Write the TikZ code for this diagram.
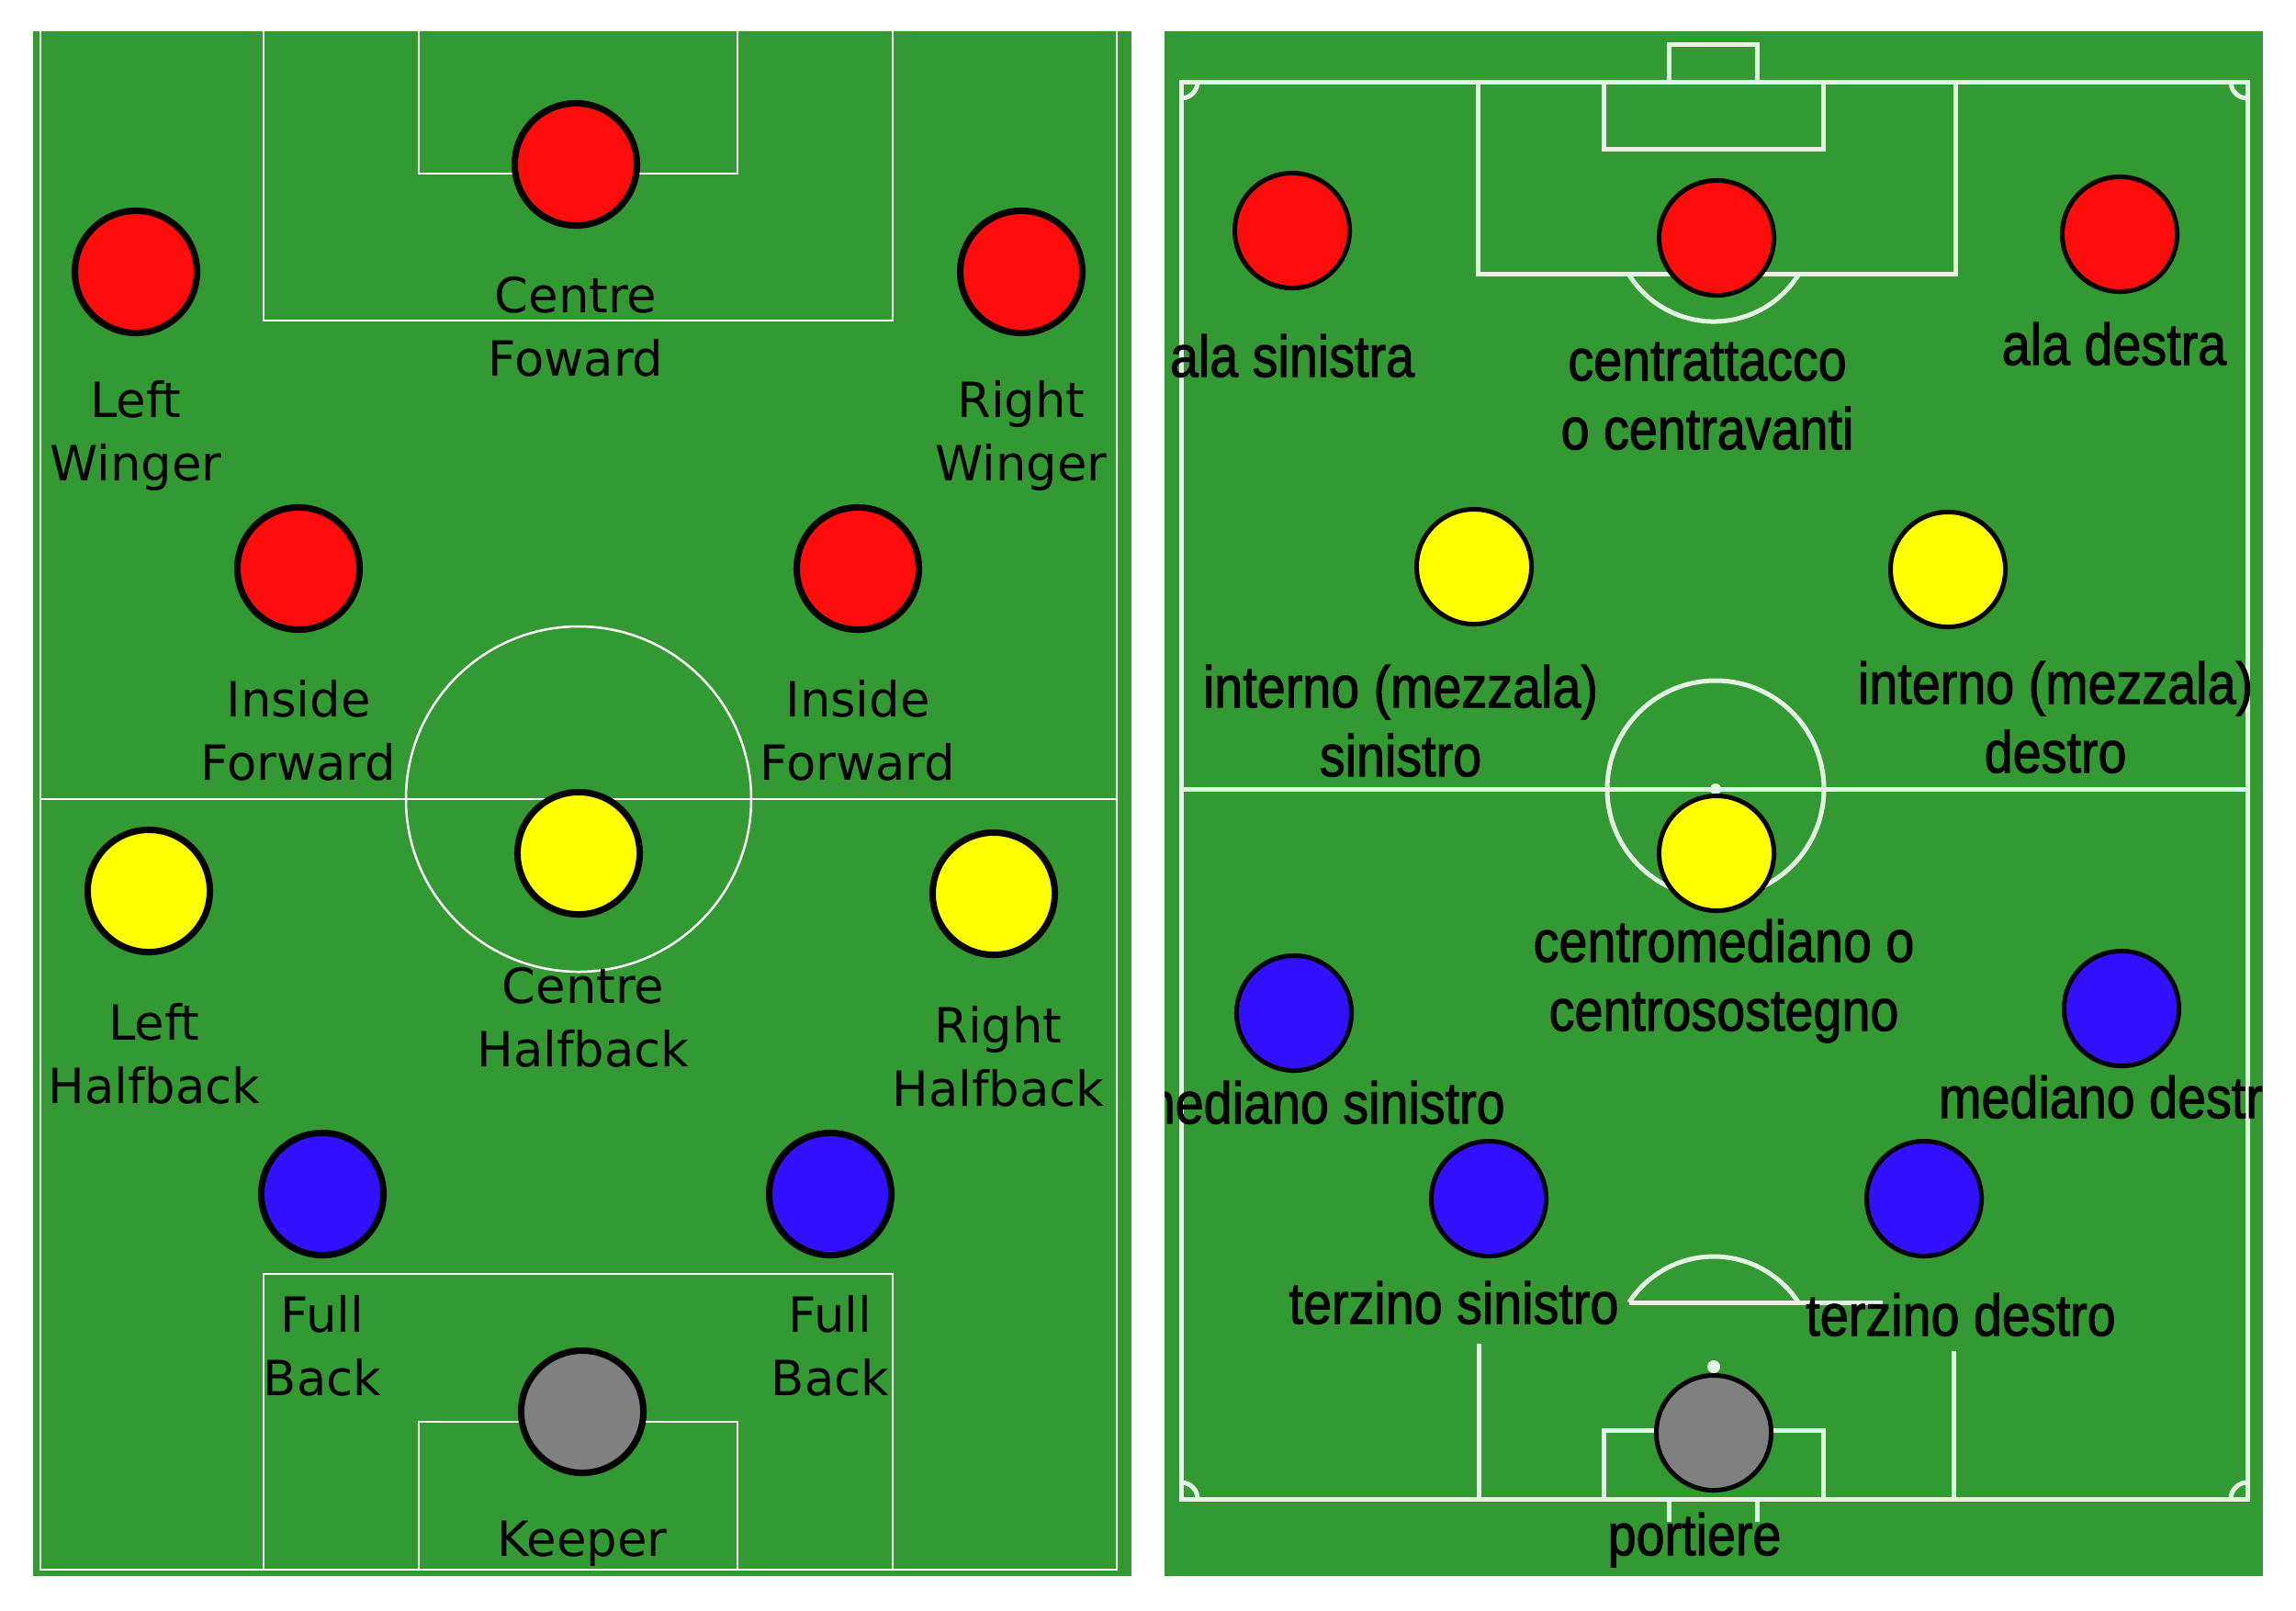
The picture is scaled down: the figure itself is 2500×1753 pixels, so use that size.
\documentclass[tikz,border=0pt]{standalone}
\usepackage{fontspec}
\setmainfont{DejaVu Sans}
\newfontfamily\narrowfont[FakeStretch=0.87,FakeBold=1.6]{Liberation Sans}
\usetikzlibrary{positioning}

\definecolor{pitchgreen}{RGB}{51,153,51}
\definecolor{shirtred}{RGB}{255,13,13}
\definecolor{shirtyellow}{RGB}{255,255,0}
\definecolor{shirtblue}{RGB}{51,17,255}
\definecolor{shirtgrey}{RGB}{128,128,128}
\definecolor{chalk}{RGB}{228,244,228}

\begin{document}
\begin{tikzpicture}[%Two line-ups side by side
  x=0.01cm, y=-0.01cm,
  bigplayer/.style={circle, draw=black, line width=0.07cm, minimum size=1.33cm, inner sep=0pt},
  smallplayer/.style={circle, draw=black, line width=0.05cm, minimum size=1.25cm, inner sep=0pt},
  leftlabel/.style={align=center, inner sep=0pt, font=\fontsize{15}{19.6}\selectfont},
  rightlabel/.style={align=center, inner sep=0pt, font=\narrowfont\fontsize{18.2}{21.3}\selectfont},
  leftline/.style={draw=white, line width=0.025cm},
  rightline/.style={draw=chalk, line width=0.05cm}
]

\fill[white] (0,0) rectangle (2500,1753);
\useasboundingbox (0,0) rectangle (2500,1753);

%Left pitch
\fill[pitchgreen] (36,34) rectangle (1232,1716);
\draw[leftline] (44,34) -- (44,1709) -- (1216,1709) -- (1216,34);
\draw[leftline] (44,870) -- (1216,870);
\draw[leftline] (630,870) circle[radius=188];
\draw[leftline] (287,34) -- (287,349) -- (972,349) -- (972,34);
\draw[leftline] (456,34) -- (456,189) -- (803,189) -- (803,34);
\draw[leftline] (287,1709) -- (287,1387) -- (972,1387) -- (972,1709);
\draw[leftline] (456,1709) -- (456,1548) -- (803,1548) -- (803,1709);

%Right pitch
\fill[pitchgreen] (1268,34) rectangle (2464,1716);
\draw[rightline] (1286,89) rectangle (2447,1632);
\draw[rightline] (1286,859) -- (2447,859);
\draw[rightline] (1868,859) circle[radius=118];
\fill[chalk] (1868,859) circle[radius=6];
\draw[rightline] (1817,89) -- (1817,48) -- (1913,48) -- (1913,89);
\draw[rightline] (1746,89) -- (1746,162) -- (1985,162) -- (1985,89);
\draw[rightline] (1609,89) -- (1609,298) -- (2129,298) -- (2129,89);
\draw[rightline] (1958.9,298) arc[start angle=31.5, end angle=148.5, radius=109];
\draw[rightline] (1746,1632) -- (1746,1557) -- (1985,1557) -- (1985,1632);
\draw[rightline] (1817,1632) -- (1817,1657);
\draw[rightline] (1913,1632) -- (1913,1657);
\draw[rightline] (1610,1463) -- (1610,1632);
\draw[rightline] (2127,1471) -- (2127,1632);
\draw[rightline] (1773.8,1418) -- (2050,1418);
\draw[rightline] (1773.8,1418) arc[start angle=213.06, end angle=326.94, radius=110];
\fill[chalk] (1866,1488) circle[radius=7];
%corners
\draw[rightline] (1304,89) arc[start angle=0, end angle=90, radius=18];
\draw[rightline] (2447,107) arc[start angle=90, end angle=180, radius=18];
\draw[rightline] (1286,1614) arc[start angle=270, end angle=360, radius=18];
\draw[rightline] (2429,1632) arc[start angle=180, end angle=270, radius=18];

%Nodes left pitch
\node[bigplayer, fill=shirtred] (cf) at (627,179) {};
\node[bigplayer, fill=shirtred] (lw) at (148,296) {};
\node[bigplayer, fill=shirtred] (rw) at (1112,296) {};
\node[bigplayer, fill=shirtred] (lif) at (325,619) {};
\node[bigplayer, fill=shirtred] (rif) at (934,619) {};
\node[bigplayer, fill=shirtyellow] (ch) at (630,929) {};
\node[bigplayer, fill=shirtyellow] (lh) at (162,970) {};
\node[bigplayer, fill=shirtyellow] (rh) at (1082,973) {};
\node[bigplayer, fill=shirtblue] (lfb) at (351,1300) {};
\node[bigplayer, fill=shirtblue] (rfb) at (904,1300) {};
\node[bigplayer, fill=shirtgrey] (gk) at (634,1537) {};

\node[leftlabel, below=0.52cm of cf] (cfl) {Centre\\Foward};
\node[leftlabel, below=0.48cm of lw] (lwl) {Left\\Winger};
\node[leftlabel, below=0.48cm of rw] (rwl) {Right\\Winger};
\node[leftlabel, below=0.51cm of lif] (lifl) {Inside\\Forward};
\node[leftlabel, below=0.51cm of rif] (rifl) {Inside\\Forward};
\node[leftlabel, below=0.54cm of ch, xshift=0.05cm] (chl) {Centre\\Halfback};
\node[leftlabel, below=0.52cm of lh, xshift=0.06cm] (lhl) {Left\\Halfback};
\node[leftlabel, below=0.52cm of rh, xshift=0.05cm] (rhl) {Right\\Halfback};
\node[leftlabel, below=0.40cm of lfb] (lfbl) {Full\\Back};
\node[leftlabel, below=0.40cm of rfb] (rfbl) {Full\\Back};
\node[leftlabel, below=0.48cm of gk] (gkl) {Keeper};

%Nodes right pitch
\begin{scope}
\clip (1268,34) rectangle (2464,1716);
\node[smallplayer, fill=shirtred] (as) at (1407,251) {};
\node[smallplayer, fill=shirtred] (ca) at (1869,259) {};
\node[smallplayer, fill=shirtred] (ad) at (2308,255) {};
\node[smallplayer, fill=shirtyellow] (ins) at (1605,617) {};
\node[smallplayer, fill=shirtyellow] (ind) at (2121,620) {};
\node[smallplayer, fill=shirtyellow] (cmed) at (1869,929) {};
\node[smallplayer, fill=shirtblue] (ms) at (1409,1103) {};
\node[smallplayer, fill=shirtblue] (md) at (2310,1098) {};
\node[smallplayer, fill=shirtblue] (ts) at (1621,1305) {};
\node[smallplayer, fill=shirtblue] (td) at (2095,1305) {};
\node[smallplayer, fill=shirtgrey] (por) at (1866,1560) {};

\node[rightlabel, below=0.47cm of as] (asl) {ala sinistra};
\node[rightlabel, below=0.48cm of ca, xshift=-0.1cm] (cal) {centrattacco\\o centravanti};
\node[rightlabel, below=0.30cm of ad, xshift=-0.06cm] (adl) {ala destra};
\node[rightlabel, below=0.41cm of ins, xshift=-0.8cm] (insl) {interno (mezzala)\\sinistro};
\node[rightlabel, below=0.34cm of ind, xshift=1.17cm] (indl) {interno (mezzala)\\destro};
\node[rightlabel, below=0.06cm of cmed, xshift=0.08cm] (cmedl) {centromediano o\\centrosostegno};
\node[rightlabel, below=0.08cm of ms, xshift=0.27cm] (msl) {mediano sinistro};
\node[rightlabel, below=0.07cm of md, xshift=-0.07cm] (mdl) {mediano destro};
\node[rightlabel, below=0.24cm of ts, xshift=-0.38cm] (tsl) {terzino sinistro};
\node[rightlabel, below=0.37cm of td, xshift=0.4cm] (tdl) {terzino destro};
\node[rightlabel, below=0.21cm of por, xshift=-0.21cm] (porl) {portiere};
\end{scope}
\end{tikzpicture}
\end{document}
